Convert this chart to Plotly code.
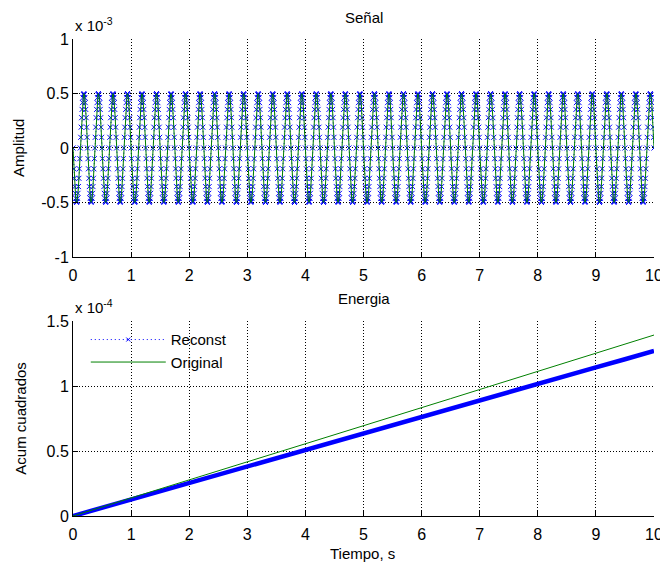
import numpy as np
import plotly.graph_objects as go
from plotly.subplots import make_subplots

# ---- data ----
# one period of the 4 Hz signal, 32 samples, amplitude in units of 1e-3
signal_cycle = [0.000, -0.098, -0.191, -0.278, -0.354, -0.416, -0.462, -0.490,
                -0.500, -0.490, -0.462, -0.416, -0.354, -0.278, -0.191, -0.098,
                0.000, 0.098, 0.191, 0.278, 0.354, 0.416, 0.462, 0.490,
                0.500, 0.490, 0.462, 0.416, 0.354, 0.278, 0.191, 0.098]
n_cycles = 40
samples_per_second = 128

# cumulative energy (units of 1e-4)
energy_t = [0, 0.5, 1, 1.5, 2, 2.5, 3, 3.5, 4, 4.5, 5, 5.5, 6, 6.5, 7, 7.5,
            8, 8.5, 9, 9.5, 10]
energy_original = [0, 0.069, 0.138, 0.207, 0.277, 0.346, 0.415, 0.486, 0.556,
                   0.626, 0.695, 0.764, 0.834, 0.903, 0.973, 1.042, 1.114,
                   1.183, 1.252, 1.321, 1.392]
energy_reconst = [0, 0.064, 0.127, 0.190, 0.256, 0.318, 0.381, 0.445, 0.510,
                  0.572, 0.635, 0.698, 0.762, 0.826, 0.889, 0.952, 1.016,
                  1.080, 1.143, 1.206, 1.269]

x_ticks = [0, 1, 2, 3, 4, 5, 6, 7, 8, 9, 10]
y1_ticks = [-1, -0.5, 0, 0.5, 1]
y1_labels = ["-1", "-0.5", "0", "0.5", "1"]
y2_ticks = [0, 0.5, 1, 1.5]
y2_labels = ["0", "0.5", "1", "1.5"]

# ---- build series ----
sig = np.array(list(np.tile(signal_cycle, n_cycles)) + [signal_cycle[0]])
t = np.arange(len(sig)) / samples_per_second

GREEN = "rgb(0,128,0)"
BLUE = "rgb(0,0,255)"
FONT = "Liberation Sans, Arial, sans-serif"

fig = make_subplots(rows=2, cols=1)
fig.update_layout(
    yaxis=dict(domain=[0.543, 1.0]),
    yaxis2=dict(domain=[0.0, 0.4088]),
)

# top: signal
fig.add_trace(go.Scatter(x=t, y=sig, mode="lines+markers",
                         line=dict(color=BLUE, width=1, dash="1px,3px"),
                         marker=dict(symbol="x-thin", size=5,
                                     line=dict(color=BLUE, width=1)),
                         showlegend=False), row=1, col=1)
fig.add_trace(go.Scatter(x=t, y=sig, mode="lines",
                         line=dict(color=GREEN, width=1),
                         showlegend=False), row=1, col=1)

# bottom: energy
fig.add_trace(go.Scatter(x=energy_t, y=energy_reconst, mode="lines",
                         line=dict(color=BLUE, width=4.5),
                         showlegend=False), row=2, col=1)
fig.add_trace(go.Scatter(x=[None], y=[None], mode="lines+markers", name="Reconst",
                         legendgroup="a",
                         line=dict(color=BLUE, width=1, dash="1px,3px"),
                         marker=dict(symbol="x-thin", size=4,
                                     line=dict(color=BLUE, width=1))),
              row=2, col=1)
fig.add_trace(go.Scatter(x=energy_t, y=energy_original, mode="lines", name="Original",
                         legendgroup="b",
                         line=dict(color=GREEN, width=1)), row=2, col=1)

axis_common = dict(showline=True, linecolor="black", linewidth=1, mirror=False,
                   ticks="inside", ticklen=5, tickcolor="black",
                   showgrid=True, gridcolor="black", gridwidth=1, griddash="1px,2px",
                   zeroline=False, ticklabeloverflow="allow", automargin=False,
                   tickfont=dict(family=FONT, size=16, color="black"))

fig.update_xaxes(range=[0, 10], tickvals=x_ticks, ticklabelstandoff=4, **axis_common)
fig.update_yaxes(range=[-1, 1], tickvals=y1_ticks, ticktext=y1_labels, row=1, col=1, **axis_common)
fig.update_yaxes(range=[0, 1.5], tickvals=y2_ticks, ticktext=y2_labels, row=2, col=1, **axis_common)

def ann(text, x, y, size=15, xanchor="center", yanchor="middle", **kw):
    fig.add_annotation(text=text, x=x, y=y, xref="paper", yref="paper",
                       xanchor=xanchor, yanchor=yanchor,
                       showarrow=False, font=dict(family=FONT, size=size, color="black"), **kw)

ann("Señal", 0.5, 1.045)
ann("Energia", 0.5, 0.455)
ann("Amplitud", -0.0930, 0.7715, textangle=-90)
ann("Acum cuadrados", -0.0900, 0.2055, textangle=-90)
ann("Tiempo, s", 0.499, -0.0776)
ann("x 10<sup>-3</sup>", 0.0, 1.006, xanchor="left", yanchor="bottom")
ann("x 10<sup>-4</sup>", 0.0, 0.415, xanchor="left", yanchor="bottom")

fig.update_layout(
    width=660, height=565,
    margin=dict(l=73, r=6, t=39, b=49, autoexpand=False),
    paper_bgcolor="white", plot_bgcolor="white",
    legend=dict(x=0.022, y=0.404, xanchor="left", yanchor="top",
                bgcolor="rgba(0,0,0,0)", borderwidth=0, itemwidth=75,
                tracegroupgap=0,
                font=dict(family=FONT, size=15, color="black")),
)

fig.write_html("out.html")
